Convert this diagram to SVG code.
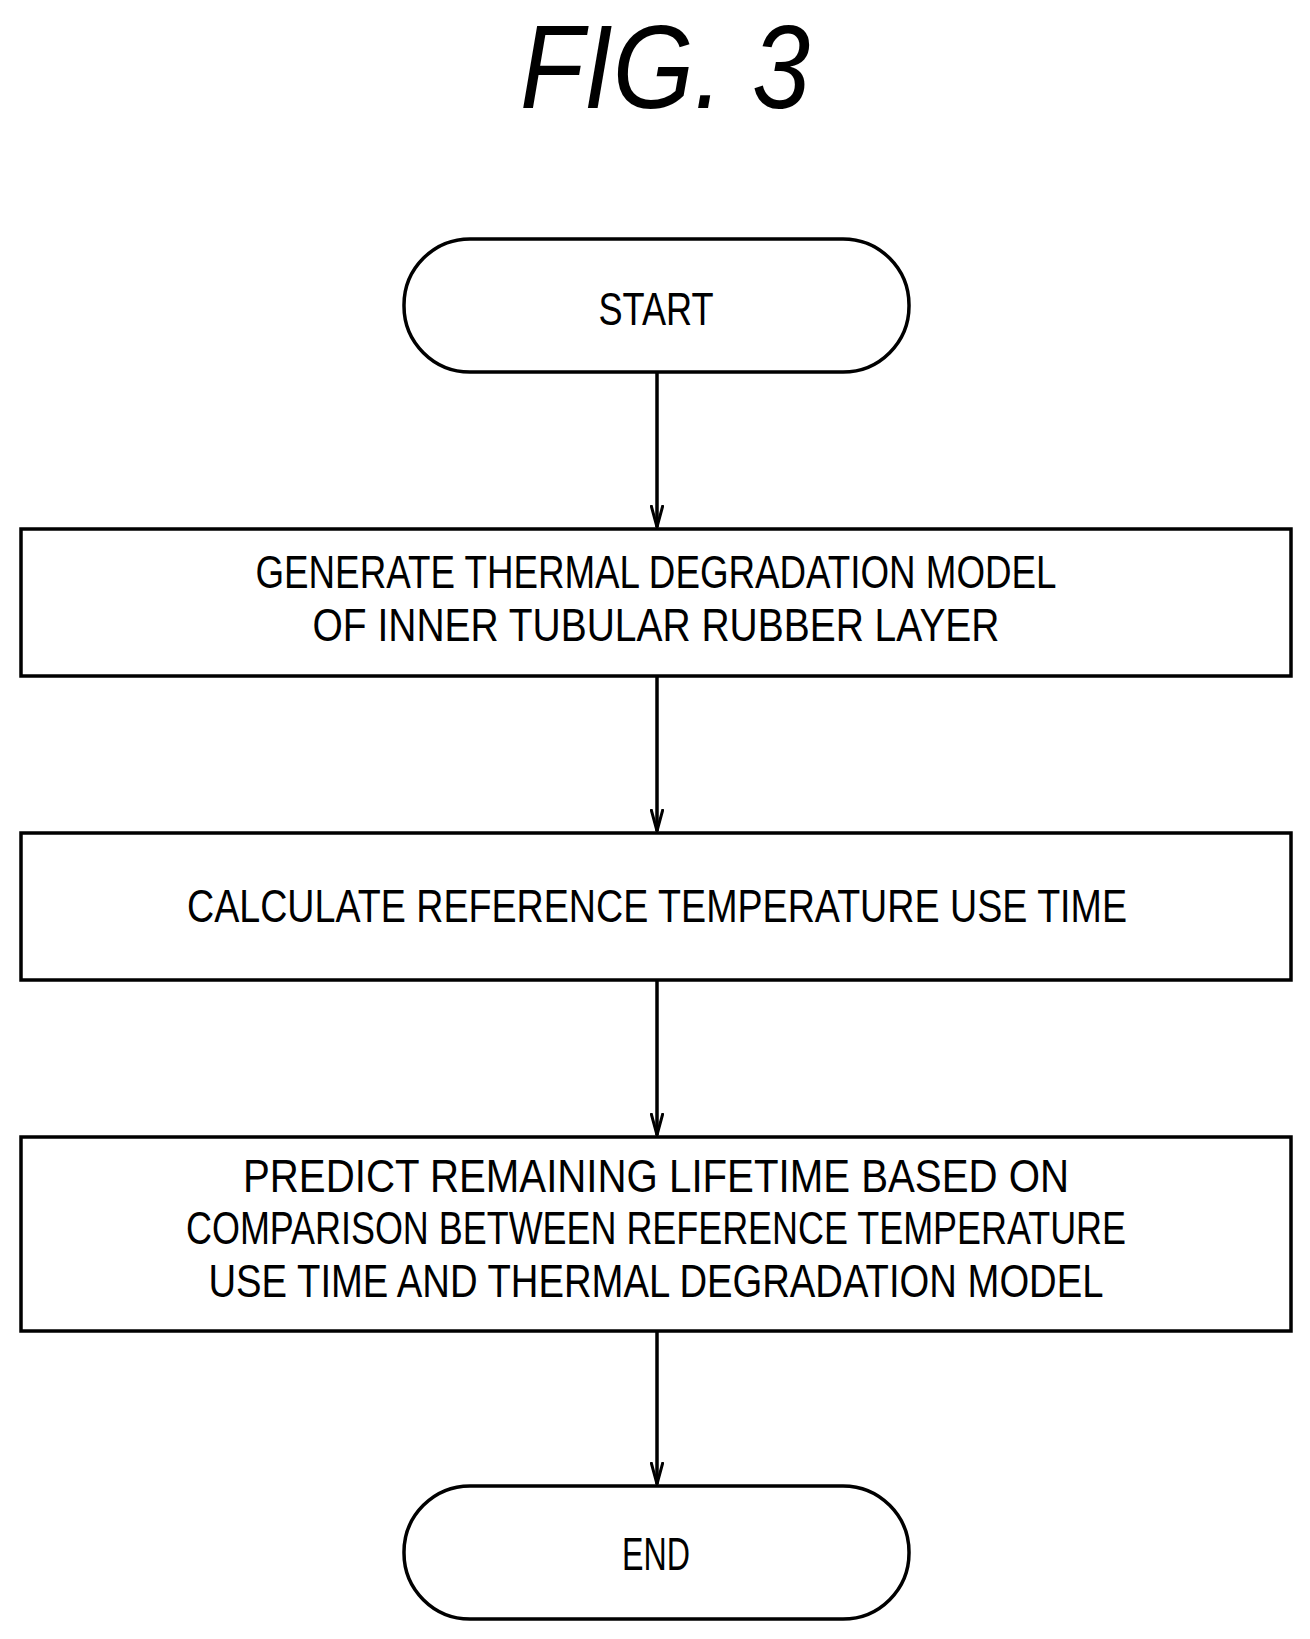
<svg xmlns="http://www.w3.org/2000/svg" width="1310" height="1639" viewBox="0 0 1310 1639">
<defs><marker id="ah" markerWidth="24" markerHeight="14" refX="22" refY="7" orient="auto" markerUnits="userSpaceOnUse"><path d="M0,1 L22,7 L0,13" fill="none" stroke="#000" stroke-width="3"/></marker></defs>
<style>
.s{fill:#fff;stroke:#000;stroke-width:3.5}
.t{font-family:"Liberation Sans",Arial,sans-serif;font-size:46px;text-anchor:middle;fill:#000}
.c{stroke:#000;stroke-width:3.5;fill:none}
</style>
<rect width="1310" height="1639" fill="#fff"/>
<text x="665" y="108" font-family="Liberation Sans,sans-serif" font-size="118" font-style="italic" text-anchor="middle" textLength="290" lengthAdjust="spacingAndGlyphs">FIG. 3</text>
<g id="connectors">
<line class="c" x1="657" y1="372" x2="657" y2="527" marker-end="url(#ah)"/>
<line class="c" x1="657" y1="676" x2="657" y2="831" marker-end="url(#ah)"/>
<line class="c" x1="657" y1="980" x2="657" y2="1135" marker-end="url(#ah)"/>
<line class="c" x1="657" y1="1331" x2="657" y2="1484" marker-end="url(#ah)"/>
</g>
<g id="start"><rect class="s" x="404" y="239" width="505" height="133" rx="66"/><text class="t" x="656" y="325" textLength="115" lengthAdjust="spacingAndGlyphs">START</text></g>
<g id="step1"><rect class="s" x="21" y="529" width="1270" height="147"/>
<text class="t" x="656" y="588" textLength="801" lengthAdjust="spacingAndGlyphs">GENERATE THERMAL DEGRADATION MODEL</text>
<text class="t" x="656" y="641" textLength="687" lengthAdjust="spacingAndGlyphs">OF INNER TUBULAR RUBBER LAYER</text></g>
<g id="step2"><rect class="s" x="21" y="833" width="1270" height="147"/>
<text class="t" x="657" y="922" textLength="940" lengthAdjust="spacingAndGlyphs">CALCULATE REFERENCE TEMPERATURE USE TIME</text></g>
<g id="step3"><rect class="s" x="21" y="1137" width="1270" height="194"/>
<text class="t" x="656" y="1192" textLength="826" lengthAdjust="spacingAndGlyphs">PREDICT REMAINING LIFETIME BASED ON</text>
<text class="t" x="656" y="1244" textLength="940" lengthAdjust="spacingAndGlyphs">COMPARISON BETWEEN REFERENCE TEMPERATURE</text>
<text class="t" x="656" y="1297" textLength="895" lengthAdjust="spacingAndGlyphs">USE TIME AND THERMAL DEGRADATION MODEL</text></g>
<g id="end"><rect class="s" x="404" y="1486" width="505" height="133" rx="66"/><text class="t" x="656" y="1570" textLength="68" lengthAdjust="spacingAndGlyphs">END</text></g>
</svg>
